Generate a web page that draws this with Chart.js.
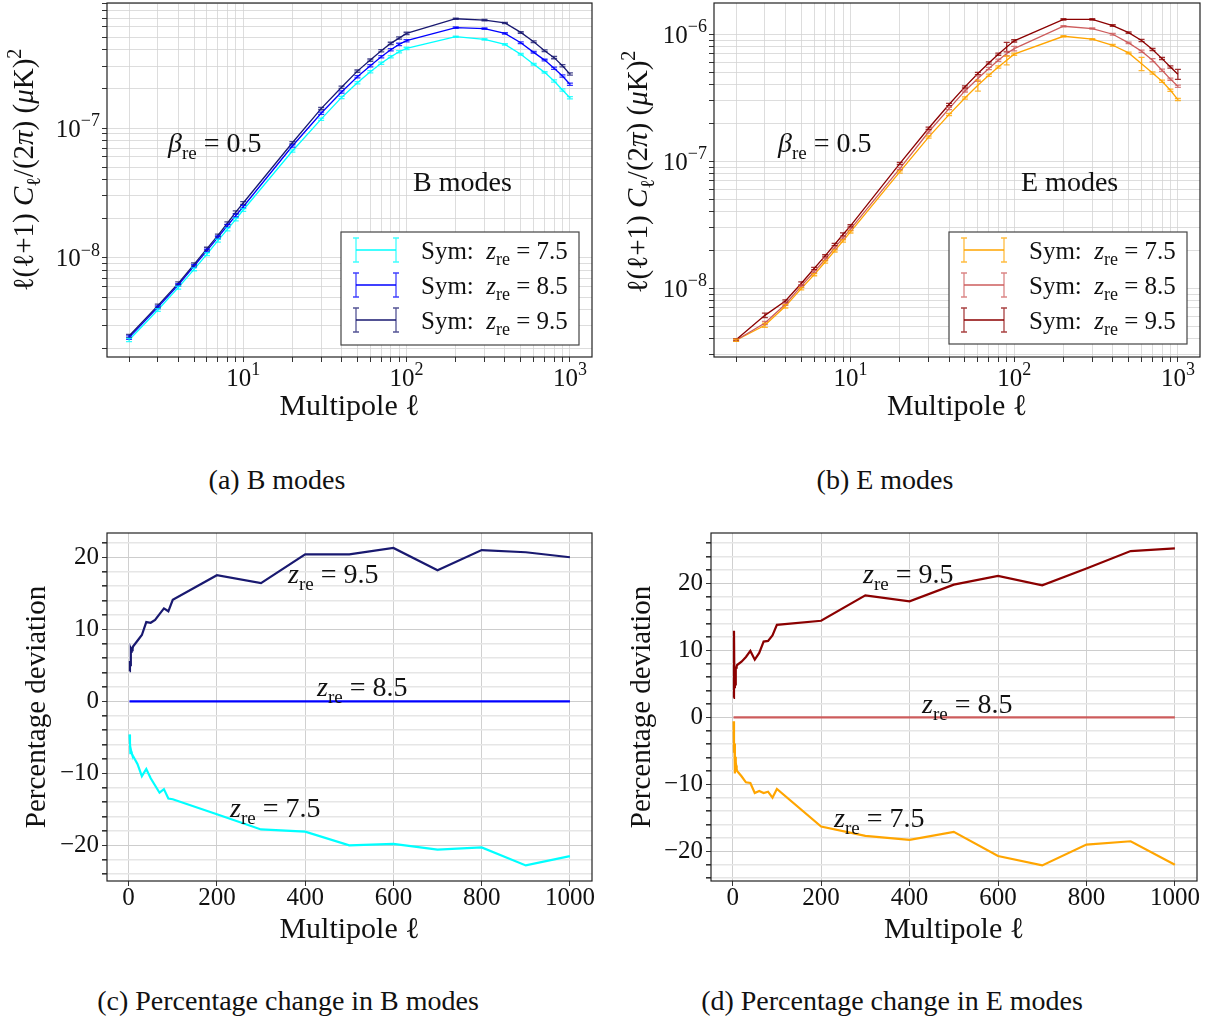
<!DOCTYPE html>
<html>
<head>
<meta charset="utf-8">
<title>Sym reionisation: B and E mode spectra</title>
<script src="https://cdn.jsdelivr.net/npm/chart.js@4.4.1/dist/chart.umd.min.js"></script>
<style>
  body { margin: 0; background: #fff; }
  #page { position: relative; width: 1213px; height: 1021px; overflow: hidden;
          font-family: "Liberation Serif", "DejaVu Serif", serif; color: #111; }
  canvas { position: absolute; }
  .caption { position: absolute; font-size: 28px; white-space: nowrap; transform: translate(-50%, -50%); }
</style>
</head>
<body>
<div id="page">
  <canvas id="chartB" width="606" height="430" style="left:0;top:0"></canvas>
  <canvas id="chartE" width="607" height="430" style="left:606px;top:0"></canvas>
  <canvas id="chartPB" width="606" height="460" style="left:0;top:500px"></canvas>
  <canvas id="chartPE" width="607" height="460" style="left:606px;top:500px"></canvas>
  <div class="caption" style="left:277px;top:480px">(a) B modes</div>
  <div class="caption" style="left:885px;top:480px">(b) E modes</div>
  <div class="caption" style="left:288px;top:1001px">(c) Percentage change in B modes</div>
  <div class="caption" style="left:892px;top:1001px">(d) Percentage change in E modes</div>
</div>
<script>
// --- Data ---
const ell = [2, 3, 4, 5, 6, 7, 8, 9, 10, 20, 30, 40, 50, 60, 70, 80, 90, 100, 200, 300, 400, 500, 600, 700, 800, 900, 1000];

// B-mode spectra, l(l+1)C_l/2pi in (uK)^2
const bSpec75 = [2.34e-9, 3.98e-9, 5.91e-9, 8.18e-9, 1.07e-8, 1.36e-8, 1.66e-8, 1.98e-8, 2.34e-8, 6.65e-8, 1.17e-7, 1.72e-7, 2.23e-7, 2.71e-7, 3.15e-7, 3.53e-7, 3.86e-7, 4.10e-7, 5.04e-7, 4.81e-7, 4.40e-7, 3.69e-7, 3.10e-7, 2.68e-7, 2.30e-7, 1.96e-7, 1.71e-7];
const bSpec85 = [2.44e-9, 4.18e-9, 6.20e-9, 8.67e-9, 1.14e-8, 1.44e-8, 1.77e-8, 2.12e-8, 2.48e-8, 7.27e-8, 1.30e-7, 1.89e-7, 2.48e-7, 3.01e-7, 3.53e-7, 4.00e-7, 4.40e-7, 4.70e-7, 5.92e-7, 5.81e-7, 5.35e-7, 4.53e-7, 3.82e-7, 3.33e-7, 2.88e-7, 2.51e-7, 2.17e-7];
const bSpec95 = [2.51e-9, 4.30e-9, 6.38e-9, 8.93e-9, 1.18e-8, 1.49e-8, 1.85e-8, 2.25e-8, 2.65e-8, 7.70e-8, 1.41e-7, 2.06e-7, 2.74e-7, 3.33e-7, 3.93e-7, 4.48e-7, 4.92e-7, 5.35e-7, 6.93e-7, 6.77e-7, 6.43e-7, 5.44e-7, 4.61e-7, 3.93e-7, 3.48e-7, 3.01e-7, 2.60e-7];

// E-mode spectra
const eSpec75 = [3.90e-9, 5.12e-9, 7.21e-9, 9.93e-9, 1.28e-8, 1.61e-8, 1.97e-8, 2.36e-8, 2.78e-8, 8.24e-8, 1.55e-7, 2.33e-7, 3.15e-7, 3.96e-7, 4.75e-7, 5.53e-7, 6.24e-7, 6.97e-7, 9.64e-7, 9.14e-7, 8.19e-7, 7.13e-7, 5.87e-7, 4.95e-7, 4.26e-7, 3.62e-7, 3.06e-7];
const eSpec85 = [3.90e-9, 5.33e-9, 7.48e-9, 1.04e-8, 1.35e-8, 1.69e-8, 2.08e-8, 2.49e-8, 2.92e-8, 8.75e-8, 1.70e-7, 2.60e-7, 3.58e-7, 4.48e-7, 5.37e-7, 6.24e-7, 7.05e-7, 7.71e-7, 1.156e-6, 1.109e-6, 1.00e-6, 8.55e-7, 7.35e-7, 6.24e-7, 5.21e-7, 4.43e-7, 3.90e-7];
const eSpec95 = [3.94e-9, 6.12e-9, 7.94e-9, 1.09e-8, 1.43e-8, 1.80e-8, 2.21e-8, 2.65e-8, 3.10e-8, 9.59e-8, 1.82e-7, 2.80e-7, 3.85e-7, 4.91e-7, 5.94e-7, 6.97e-7, 7.95e-7, 8.87e-7, 1.31e-6, 1.31e-6, 1.17e-6, 1.03e-6, 8.92e-7, 7.57e-7, 6.43e-7, 5.53e-7, 4.85e-7];

// relative error bars
const bErr75 = [0.03, 0.025, 0.025, 0.025, 0.025, 0.025, 0.025, 0.025, 0.025, 0.02, 0.02, 0.02, 0.02, 0.02, 0.02, 0.02, 0.02, 0.02, 0.012, 0.012, 0.012, 0.015, 0.015, 0.015, 0.02, 0.02, 0.02];
const bErr85 = [0.03, 0.025, 0.025, 0.025, 0.025, 0.025, 0.025, 0.025, 0.025, 0.02, 0.02, 0.02, 0.02, 0.02, 0.02, 0.02, 0.02, 0.02, 0.012, 0.012, 0.012, 0.015, 0.015, 0.015, 0.02, 0.02, 0.02];
const bErr95 = [0.03, 0.025, 0.025, 0.025, 0.025, 0.025, 0.025, 0.025, 0.025, 0.02, 0.02, 0.02, 0.02, 0.02, 0.02, 0.02, 0.02, 0.02, 0.012, 0.012, 0.012, 0.015, 0.015, 0.015, 0.02, 0.02, 0.02];
const eErr75 = [0.02, 0.04, 0.03, 0.02, 0.02, 0.02, 0.02, 0.02, 0.02, 0.02, 0.02, 0.02, 0.02, 0.10, 0.02, 0.02, 0.08, 0.02, 0.012, 0.012, 0.015, 0.015, 0.12, 0.02, 0.02, 0.02, 0.02];
const eErr85 = [0.02, 0.03, 0.02, 0.02, 0.02, 0.02, 0.02, 0.02, 0.02, 0.02, 0.02, 0.02, 0.02, 0.05, 0.02, 0.02, 0.04, 0.04, 0.012, 0.012, 0.015, 0.015, 0.02, 0.03, 0.02, 0.02, 0.02];
const eErr95 = [0.02, 0.04, 0.02, 0.03, 0.02, 0.02, 0.02, 0.03, 0.02, 0.02, 0.02, 0.02, 0.02, 0.02, 0.02, 0.02, 0.085, 0.02, 0.012, 0.012, 0.015, 0.015, 0.02, 0.02, 0.02, 0.02, 0.09];

// percentage deviation relative to z_re = 8.5
const pctB75 = [-4.6, -5.7, -7.2, -6.7, -7.0, -7.2, -7.4, -7.5, -7.6, -8.7, -10.4, -9.4, -10.7, -11.7, -12.7, -12.2, -13.5, -13.6, -15.7, -17.8, -18.1, -20.0, -19.8, -20.6, -20.3, -22.8, -21.5];
const pctB85 = [0, 0, 0, 0, 0, 0, 0, 0, 0, 0, 0, 0, 0, 0, 0, 0, 0, 0, 0, 0, 0, 0, 0, 0, 0, 0, 0];
const pctB95 = [4.2, 5.6, 5.0, 7.1, 6.9, 7.2, 7.1, 7.3, 7.6, 8.4, 9.2, 11.0, 10.9, 11.3, 12.1, 12.9, 12.5, 14.1, 17.5, 16.4, 20.4, 20.4, 21.3, 18.2, 21.0, 20.7, 20.0];
const pctE75 = [-0.6, -5.3, -3.9, -8.4, -5.9, -6.7, -7.2, -7.7, -8.0, -8.8, -9.7, -9.8, -11.3, -11.0, -11.3, -11.1, -12.0, -10.7, -16.3, -17.7, -18.3, -17.1, -20.7, -22.1, -19.0, -18.5, -22.0];
const pctE85 = [0, 0, 0, 0, 0, 0, 0, 0, 0, 0, 0, 0, 0, 0, 0, 0, 0, 0, 0, 0, 0, 0, 0, 0, 0, 0, 0];
const pctE95 = [2.9, 12.9, 4.5, 7.0, 4.9, 7.3, 7.4, 7.6, 7.8, 8.3, 9.0, 9.9, 8.6, 9.6, 11.3, 11.4, 12.2, 13.8, 14.4, 18.2, 17.3, 19.8, 21.1, 19.7, 22.2, 24.8, 25.2];

// tick labels
const logXTicks = [10, 100, 1000];
const logXExps = ['1', '2', '3'];
const logYTicksB = [1e-8, 1e-7];
const logYExpsB = ['\u22128', '\u22127'];
const logYTicksE = [1e-8, 1e-7, 1e-6];
const logYExpsE = ['\u22128', '\u22127', '\u22126'];
const pctXTicks = [0, 200, 400, 600, 800, 1000];

const zLabels = ['7.5', '8.5', '9.5'];

// --- Styling ---
const SERIF = '"Liberation Serif", "DejaVu Serif", serif';
const bColors = ['#00ffff', '#0000ff', '#191970'];
const eColors = ['#ffa500', '#cd5c5c', '#8b0000'];

function drawRich(ctx, parts, x, cy, size, align) {
    const pieces = parts.map(([t, st]) => {
        const small = st === 'sub' || st === 'sup';
        const font = (st === 'i' ? 'italic ' : '') + Math.round(small ? size * 0.7 : size) + 'px ' + SERIF;
        ctx.font = font;
        return { t, font, w: ctx.measureText(t).width, dy: st === 'sub' ? size * 0.24 : st === 'sup' ? -size * 0.42 : 0 };
    });
    const total = pieces.reduce((s, p) => s + p.w, 0);
    let cx = align === 'center' ? x - total / 2 : align === 'right' ? x - total : x;
    const base = cy + size * 0.34;
    ctx.textAlign = 'left';
    ctx.textBaseline = 'alphabetic';
    ctx.fillStyle = '#111';
    pieces.forEach(p => { ctx.font = p.font; ctx.fillText(p.t, cx, base + p.dy); cx += p.w; });
}

const zre = v => [['z', 'i'], ['re', 'sub'], [' = ' + v]];
const symLabel = v => [['Sym:  '], ['z', 'i'], ['re', 'sub'], [' = ' + v]];
const spectrumTitle = [['\u2113'], ['(\u2113+1) '], ['C', 'i'], ['\u2113', 'sub'], ['/(2'], ['\u03c0', 'i'], [') ('], ['\u03bc', 'i'], ['K)'], ['2', 'sup']];
const betaNote = [['\u03b2', 'i'], ['re', 'sub'], [' = 0.5']];
const multipole = [['Multipole '], ['\u2113']];

// per-canvas decorations (text, legend, log tick labels)
const decor = {
    chartB: {
        yTitle: spectrumTitle, yTitleX: 23, yTitleY: 170, xTitleY: 405,
        xTicks: logXTicks, xExps: logXExps, yTicks: logYTicksB, yExps: logYExpsB,
        notes: [{ x: 168, y: 143, parts: betaNote }, { x: 413, y: 182, parts: [['B modes']] }],
        legend: { x: 341, y: 232, w: 238, h: 113, colors: bColors }
    },
    chartE: {
        yTitle: spectrumTitle, yTitleX: 31, yTitleY: 172, xTitleY: 405,
        xTicks: logXTicks, xExps: logXExps, yTicks: logYTicksE, yExps: logYExpsE,
        notes: [{ x: 172, y: 143, parts: betaNote }, { x: 415, y: 182, parts: [['E modes']] }],
        legend: { x: 343, y: 232, w: 238, h: 112, colors: eColors }
    },
    chartPB: {
        yTitle: [['Percentage deviation']], yTitleX: 35, yTitleY: 207, xTitleY: 428,
        notes: [{ x: 288, y: 74, parts: zre('9.5') }, { x: 317, y: 187, parts: zre('8.5') }, { x: 230, y: 308, parts: zre('7.5') }]
    },
    chartPE: {
        yTitle: [['Percentage deviation']], yTitleX: 34, yTitleY: 207, xTitleY: 428,
        notes: [{ x: 257, y: 74, parts: zre('9.5') }, { x: 316, y: 204, parts: zre('8.5') }, { x: 228, y: 318, parts: zre('7.5') }]
    }
};

const decorPlugin = {
    id: 'decor',
    afterDatasetsDraw(chart) {
        const ctx = chart.ctx, xs = chart.scales.x, ys = chart.scales.y;
        chart.data.datasets.forEach(ds => {
            if (!ds.errs) return;
            ctx.save();
            ctx.strokeStyle = ds.borderColor;
            ctx.globalAlpha = 0.8;
            ctx.lineWidth = 1.3;
            ds.data.forEach((p, i) => {
                const x = xs.getPixelForValue(p.x);
                const y0 = ys.getPixelForValue(p.y * (1 - ds.errs[i]));
                const y1 = ys.getPixelForValue(p.y * (1 + ds.errs[i]));
                ctx.beginPath();
                ctx.moveTo(x, y0); ctx.lineTo(x, y1);
                ctx.moveTo(x - 3, y0); ctx.lineTo(x + 3, y0);
                ctx.moveTo(x - 3, y1); ctx.lineTo(x + 3, y1);
                ctx.stroke();
            });
            ctx.restore();
        });
    },
    afterDraw(chart) {
        const ctx = chart.ctx, a = chart.chartArea, d = decor[chart.canvas.id];
        const xs = chart.scales.x, ys = chart.scales.y;
        ctx.save();
        // axes frame
        ctx.strokeStyle = '#222';
        ctx.lineWidth = 1.2;
        ctx.strokeRect(a.left, a.top, a.right - a.left, a.bottom - a.top);

        // log tick labels 10^n
        if (d.xTicks) d.xTicks.forEach((v, i) => {
            drawRich(ctx, [['10'], [d.xExps[i], 'sup']], xs.getPixelForValue(v), a.bottom + 20, 25, 'center');
        });
        if (d.yTicks) d.yTicks.forEach((v, i) => {
            drawRich(ctx, [['10'], [d.yExps[i], 'sup']], a.left - 7, ys.getPixelForValue(v), 25, 'right');
        });

        // axis titles
        drawRich(ctx, multipole, (a.left + a.right) / 2, d.xTitleY, 29.5, 'center');
        ctx.save();
        ctx.translate(d.yTitleX, d.yTitleY);
        ctx.rotate(-Math.PI / 2);
        drawRich(ctx, d.yTitle, 0, 0, 29, 'center');
        ctx.restore();

        // legend
        if (d.legend) {
            const L = d.legend;
            ctx.fillStyle = '#fff';
            ctx.fillRect(L.x, L.y, L.w, L.h);
            ctx.strokeStyle = '#444';
            ctx.lineWidth = 1.2;
            ctx.strokeRect(L.x, L.y, L.w, L.h);
            L.colors.forEach((c, i) => {
                const y = L.y + 18 + i * 35, g0 = L.x + 15, g1 = L.x + 55;
                ctx.strokeStyle = c;
                ctx.lineWidth = 1.3;
                ctx.globalAlpha = 1;
                ctx.beginPath(); ctx.moveTo(g0, y); ctx.lineTo(g1, y); ctx.stroke();
                ctx.globalAlpha = 0.75;
                ctx.beginPath();
                [g0, g1].forEach(gx => {
                    ctx.moveTo(gx, y - 12); ctx.lineTo(gx, y + 12);
                    ctx.moveTo(gx - 3, y - 12); ctx.lineTo(gx + 3, y - 12);
                    ctx.moveTo(gx - 3, y + 12); ctx.lineTo(gx + 3, y + 12);
                });
                ctx.stroke();
                ctx.globalAlpha = 1;
                drawRich(ctx, symLabel(zLabels[i]), L.x + 80, y, 25, 'left');
            });
        }

        // annotations
        d.notes.forEach(n => drawRich(ctx, n.parts, n.x, n.y, 27.5, 'left'));
        ctx.restore();
    }
};

function logTicks(min, max) {
    const out = [];
    for (let e = Math.floor(Math.log10(min)); e <= Math.ceil(Math.log10(max)); e++) {
        for (let m = 1; m <= 9; m++) {
            const v = Number((m * Math.pow(10, e)).toPrecision(3));
            if (v >= min && v <= max) out.push({ value: v, major: m === 1 });
        }
    }
    return out;
}

const gridLog = { color: '#d4d4d4', lineWidth: 0.8, tickColor: '#333', tickLength: 5, tickWidth: 1 };

function spectrumChart(id, values, errs, colors, yMin, yMax, yWidth, padRight) {
    return new Chart(document.getElementById(id), {
        type: 'line',
        data: {
            // drawn so that 9.5 lies on top, as in the original
            datasets: [2, 1, 0].map(k => ({
                data: ell.map((l, i) => ({ x: l, y: values[k][i] })),
                errs: errs[k],
                borderColor: colors[k],
                borderWidth: 1.3,
                pointRadius: 0,
                tension: 0,
                fill: false
            }))
        },
        options: {
            responsive: false,
            animation: false,
            events: [],
            layout: { padding: { top: 3, right: padRight, left: 0, bottom: 0 } },
            plugins: { legend: { display: false }, tooltip: { enabled: false } },
            scales: {
                x: {
                    type: 'logarithmic', min: 1.466, max: 1365,
                    afterBuildTicks: s => { s.ticks = logTicks(s.min, s.max); },
                    afterFit: s => { s.height = 73; },
                    ticks: { display: false },
                    grid: gridLog,
                    border: { display: false }
                },
                y: {
                    type: 'logarithmic', min: yMin, max: yMax,
                    afterBuildTicks: s => { s.ticks = logTicks(s.min, s.max); },
                    afterFit: s => { s.width = yWidth; },
                    ticks: { display: false },
                    grid: gridLog,
                    border: { display: false }
                }
            }
        },
        plugins: [decorPlugin]
    });
}

const minus = v => (v < 0 ? '\u2212' + Math.abs(v) : String(v));

function percentChart(id, values, colors, yMin, yMax, yWidth, padRight) {
    return new Chart(document.getElementById(id), {
        type: 'line',
        data: {
            datasets: [1, 0, 2].map(k => ({
                data: ell.map((l, i) => ({ x: l, y: values[k][i] })),
                borderColor: colors[k],
                borderWidth: 2.2,
                pointRadius: 0,
                tension: 0,
                fill: false
            }))
        },
        options: {
            responsive: false,
            animation: false,
            events: [],
            layout: { padding: { top: 33, right: padRight, left: 0, bottom: 0 } },
            plugins: { legend: { display: false }, tooltip: { enabled: false } },
            scales: {
                x: {
                    type: 'linear', min: -49, max: 1050,
                    afterBuildTicks: s => { s.ticks = pctXTicks.map(v => ({ value: v })); },
                    afterFit: s => { s.height = 79; },
                    ticks: { autoSkip: false, maxRotation: 0, padding: 0, color: '#111',
                             font: { family: SERIF, size: 25, lineHeight: 1 }, callback: v => String(v) },
                    grid: { color: '#d0d0d0', lineWidth: 1, tickColor: '#333', tickLength: 5 },
                    border: { display: false }
                },
                y: {
                    type: 'linear', min: yMin, max: yMax,
                    afterBuildTicks: s => {
                        const t = [];
                        for (let v = Math.ceil(s.min / 2) * 2; v <= s.max; v += 2) t.push({ value: v });
                        s.ticks = t;
                    },
                    afterFit: s => { s.width = yWidth; },
                    ticks: { autoSkip: false, padding: 3, color: '#111',
                             font: { family: SERIF, size: 25, lineHeight: 1 },
                             callback: v => (v % 10 === 0 ? minus(v) : '') },
                    grid: {
                        color: c => (c.tick && c.tick.value % 10 === 0 ? '#cdcdcd' : '#e6e6e6'),
                        lineWidth: c => (c.tick && c.tick.value % 10 === 0 ? 1 : 1.6),
                        tickColor: '#333', tickLength: 5
                    },
                    border: { display: false }
                }
            }
        },
        plugins: [decorPlugin]
    });
}

spectrumChart('chartB', [bSpec75, bSpec85, bSpec95], [bErr75, bErr85, bErr95], bColors, 1.73e-9, 9.16e-7, 107, 14);
spectrumChart('chartE', [eSpec75, eSpec85, eSpec95], [eErr75, eErr85, eErr95], eColors, 2.877e-9, 1.762e-6, 108, 13);
percentChart('chartPB', [pctB75, pctB85, pctB95], bColors, -24.96, 23.37, 107, 14);
percentChart('chartPE', [pctE75, pctE85, pctE95], eColors, -24.43, 27.5, 105, 16);
</script>
</body>
</html>
